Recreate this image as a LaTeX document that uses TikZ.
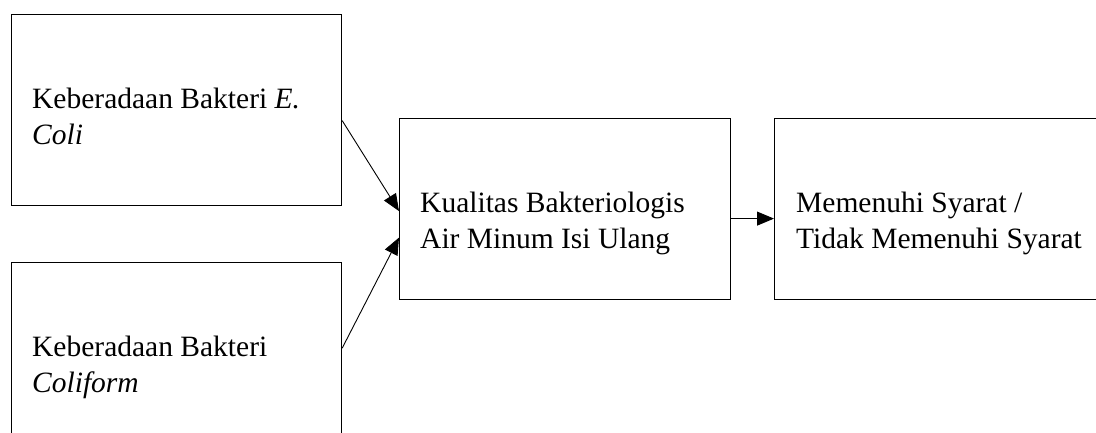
\documentclass[tikz,border=0pt]{standalone}
\usepackage{fontspec}
\setmainfont{Liberation Serif}
\usetikzlibrary{arrows.meta}
\begin{document}
\begin{tikzpicture}[x=1pt,y=-1pt,
  box/.style={draw, line width=1.2pt, rectangle, anchor=north west, inner sep=0pt},
  lbl/.style={anchor=north west, inner sep=0pt, align=left, font=\fontsize{29.5}{36}\selectfont},
  conn/.style={line width=0.9pt, -{Triangle[length=17pt,width=14pt]}}]
\useasboundingbox (0,0) rectangle (1096,432);
\clip (0,0) rectangle (1096,432);
\node[box, minimum width=330pt, minimum height=191pt] (b1) at (11,14) {};
\node[box, minimum width=330pt, minimum height=174pt] (b2) at (11,262) {};
\node[box, minimum width=331pt, minimum height=181pt] (b3) at (399,118) {};
\node[box, minimum width=328pt, minimum height=181pt] (b4) at (774,118) {};
\node[lbl] (t1) at (32,88) {Keberadaan Bakteri \textit{E.}\\\textit{Coli}};
\node[lbl] (t2) at (32,336) {Keberadaan Bakteri\\\textit{Coliform}};
\node[lbl] (t3) at (420,192) {Kualitas Bakteriologis\\Air Minum Isi Ulang};
\node[lbl] (t4) at (796,192) {Memenuhi Syarat /\\Tidak Memenuhi Syarat};
\draw[conn] ([yshift=-10.5pt]b1.east) -- ([yshift=-2pt]b3.west);
\draw[conn] ([yshift=1.5pt]b2.east) -- ([yshift=-28.5pt]b3.west);
\draw[conn] ([yshift=-9.5pt]b3.east) -- ([yshift=-9.5pt]b4.west);
\end{tikzpicture}
\end{document}
